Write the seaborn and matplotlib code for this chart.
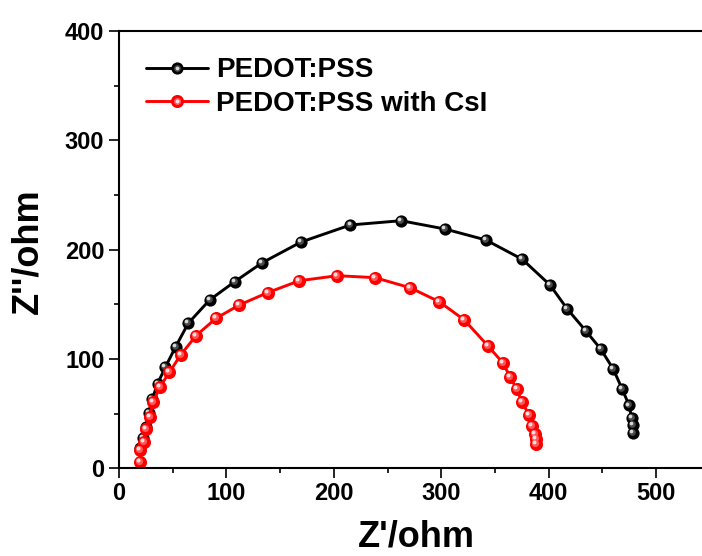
import numpy as np
import pandas as pd
import matplotlib
matplotlib.use("Agg")
import matplotlib.pyplot as plt
import matplotlib.transforms as mtransforms
from matplotlib.legend_handler import HandlerTuple
import seaborn as sns

# ---- data ----
pedot_x = [19.6, 22.0, 24.8, 27.9, 31.0, 36.0, 43.1, 52.8, 64.5, 84.4, 107.7, 133.4,
           169.5, 215.5, 262.6, 303.5, 341.5, 375.5, 401.3, 417.4, 434.5, 448.5,
           460.2, 468.3, 475.0, 477.4, 478.3, 478.8]
pedot_y = [18.3, 28.0, 38.1, 50.3, 63.5, 77.5, 92.4, 111.3, 132.7, 154.0, 170.7, 188.1,
           207.0, 222.6, 226.5, 218.9, 208.9, 191.2, 167.7, 145.7, 125.9, 109.1,
           90.8, 72.9, 57.5, 45.7, 39.6, 32.6]

csi_x = [19.6, 19.6, 23.4, 25.5, 28.5, 32.0, 38.2, 46.9, 57.4, 71.7, 90.3, 112.0,
         138.4, 167.9, 203.3, 238.4, 271.0, 298.2, 321.5, 343.3, 357.3, 364.1,
         370.3, 375.0, 381.8, 384.2, 387.3, 388.0, 388.3]
csi_y = [6.0, 16.5, 24.3, 35.8, 47.2, 61.0, 74.5, 87.8, 103.7, 121.3, 137.2, 149.4,
         160.7, 171.6, 176.2, 174.4, 165.2, 152.4, 135.7, 112.2, 96.6, 83.8,
         72.3, 61.0, 48.8, 38.7, 31.4, 26.5, 22.2]

series_names = ["PEDOT:PSS", "PEDOT:PSS with CsI"]
x_ticks = [0, 100, 200, 300, 400, 500]
y_ticks = [0, 100, 200, 300, 400]

df = pd.concat([
    pd.DataFrame({"x": pedot_x, "y": pedot_y, "s": series_names[0]}),
    pd.DataFrame({"x": csi_x, "y": csi_y, "s": series_names[1]}),
], ignore_index=True)

sns.set_theme(style="ticks")
plt.rcParams["font.family"] = ["Liberation Sans", "DejaVu Sans"]
plt.rcParams["font.weight"] = "bold"
for k in ["text.color", "axes.labelcolor", "xtick.color", "ytick.color",
          "xtick.labelcolor", "ytick.labelcolor", "axes.edgecolor"]:
    plt.rcParams[k] = "black"

fig = plt.figure(figsize=(7.02, 5.56), dpi=100)
ax = fig.add_axes([0.1695, 0.1577, 0.8415, 0.7865])

styles = {
    series_names[0]: dict(color="#000000", mid="#4a4a4a", hi="#d8d8d8", ms=8.8),
    series_names[1]: dict(color="#ff0000", mid="#ff5555", hi="#ffe0e0", ms=9.4),
}

handles = []
for name in series_names:
    st = styles[name]
    sub = df[df["s"] == name]
    sns.lineplot(data=sub, x="x", y="y", ax=ax, sort=False, estimator=None,
                 color=st["color"], lw=2.1, marker="o", ms=st["ms"],
                 markeredgewidth=0, label=None, legend=False)
    base = ax.lines[-1]
    off1 = mtransforms.offset_copy(ax.transData, fig=fig, x=-0.7, y=0.7, units="points")
    mid, = ax.plot(sub["x"], sub["y"], ls="none", marker="o", ms=st["ms"] * 0.55,
                   mew=0, color=st["mid"], transform=off1)
    off2 = mtransforms.offset_copy(ax.transData, fig=fig, x=-1.4, y=1.4, units="points")
    hi, = ax.plot(sub["x"], sub["y"], ls="none", marker="o", ms=st["ms"] * 0.3,
                  mew=0, color=st["hi"], transform=off2)
    handles.append((base, mid, hi))

ax.set_xlim(0, 550)
ax.set_ylim(0, 400)
ax.set_xticks(x_ticks)
ax.set_yticks(y_ticks)
ax.set_xticks([50, 150, 250, 350, 450, 550], minor=True)
ax.set_yticks([50, 150, 250, 350], minor=True)
ax.tick_params(which="major", direction="out", length=7, width=1.2, labelsize=17, pad=2.5,
               colors="black")
ax.tick_params(axis="y", which="major", pad=3.5)
ax.tick_params(which="minor", direction="out", length=3.6, width=1.2, colors="black")
for lab in ax.get_xticklabels() + ax.get_yticklabels():
    lab.set_fontweight("bold")
for sp in ax.spines.values():
    sp.set_linewidth(1.5)
    sp.set_color("black")

ax.set_xlabel("Z'/ohm", fontsize=26, fontweight="bold", color="black")
ax.set_ylabel("Z''/ohm", fontsize=26, fontweight="bold", va="center", color="black")
ax.xaxis.set_label_coords(0.503, -0.117)
ax.yaxis.set_label_coords(-0.154, 0.497)

leg = ax.legend(handles, series_names, handler_map={tuple: HandlerTuple(ndivide=1, pad=0)},
                loc="upper left", bbox_to_anchor=(0.045, 0.94), frameon=False,
                prop={"weight": "bold", "size": 20}, handlelength=2.25,
                handletextpad=0.3, labelspacing=0.28, borderpad=0, borderaxespad=0)
for t in leg.get_texts():
    t.set_color("black")

fig.savefig("out.png", dpi=100)
